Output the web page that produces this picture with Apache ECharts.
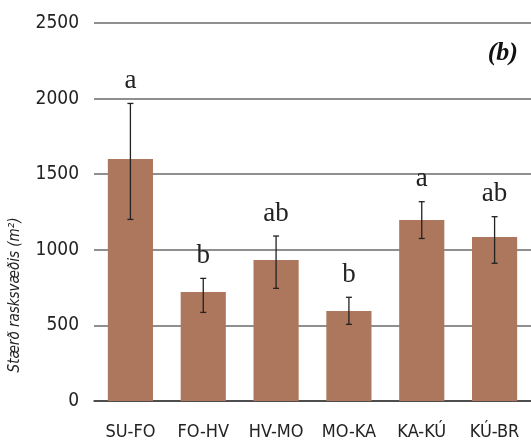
<!DOCTYPE html>
<html>
<head>
<meta charset="utf-8">
<script src="https://cdn.jsdelivr.net/npm/echarts@6/dist/echarts.min.js"></script>
<style>
  html, body { margin: 0; padding: 0; background: #fff; }
  #chart { width: 531px; height: 441px; }
</style>
</head>
<body>
<div id="chart"></div>
<script>
// Disturbed area per section, with error range and significance letters
const categories = ['SU-FO', 'FO-HV', 'HV-MO', 'MO-KA', 'KA-KÚ', 'KÚ-BR'];
const means = [1600, 721, 932, 595, 1197, 1085];
const errLow = [1201, 586, 745, 507, 1075, 911];
const errHigh = [1968, 811, 1091, 686, 1318, 1219];
const groupLetters = ['a', 'b', 'ab', 'b', 'a', 'ab'];
const yTicks = [0, 500, 1000, 1500, 2000, 2500];

const sansNarrow = '"Liberation Sans Narrow", "DejaVu Sans Condensed", sans-serif';
const serif = '"Liberation Serif", "DejaVu Serif", serif';

const chart = echarts.init(document.getElementById('chart'), null, { renderer: 'canvas' });

const errData = categories.map((c, i) => [i, errLow[i], errHigh[i]]);

chart.setOption({
  animation: false,
  grid: { left: 94, top: 23, width: 443, height: 378, containLabel: false },
  xAxis: {
    type: 'category',
    data: categories,
    axisLine: { show: true, lineStyle: { color: '#3a3a3a', width: 1.5 } },
    axisTick: { show: false },
    axisLabel: {
      interval: 0,
      color: '#222', fontFamily: sansNarrow, fontSize: 18, margin: 22
    }
  },
  yAxis: {
    type: 'value',
    min: 0, max: yTicks[yTicks.length - 1], interval: 500,
    axisLine: { show: false },
    axisTick: { show: false },
    axisLabel: {
      color: '#222', fontFamily: sansNarrow, fontSize: 19, margin: 15,
      formatter: function (v) { return String(v); }
    },
    splitLine: { show: true, lineStyle: { color: '#6a6a6a', width: 1.5 } }
  },
  graphic: [
    {
      type: 'text',
      x: 15, y: 295,
      rotation: Math.PI / 2,
      style: {
        text: 'Stærð rasksvæðis (m²)',
        fontFamily: sansNarrow, fontStyle: 'italic', fontSize: 15,
        fill: '#222', align: 'center', verticalAlign: 'middle'
      }
    },
    {
      type: 'text',
      x: 518, y: 53,
      style: {
        text: '(b)',
        fontFamily: serif, fontStyle: 'italic', fontWeight: 'bold', fontSize: 26,
        fill: '#111', align: 'right', verticalAlign: 'middle'
      }
    }
  ],
  series: [
    {
      type: 'bar',
      data: means,
      barWidth: '62%',
      itemStyle: { color: '#ad775d' },
      z: 2
    },
    {
      type: 'custom',
      data: errData,
      z: 3,
      renderItem: function (params, api) {
        const x = api.coord([api.value(0), 0])[0];
        const yLo = api.coord([api.value(0), api.value(1)])[1];
        const yHi = api.coord([api.value(0), api.value(2)])[1];
        const cap = 3;
        const st = { stroke: '#222', lineWidth: 1.3 };
        return {
          type: 'group',
          children: [
            { type: 'line', shape: { x1: x, y1: yHi, x2: x, y2: yLo }, style: st },
            { type: 'line', shape: { x1: x - cap, y1: yHi, x2: x + cap, y2: yHi }, style: st },
            { type: 'line', shape: { x1: x - cap, y1: yLo, x2: x + cap, y2: yLo }, style: st },
            {
              type: 'text',
              x: x, y: yHi - 9,
              style: {
                text: groupLetters[params.dataIndex],
                fontFamily: serif, fontSize: 27, fill: '#222',
                align: 'center', verticalAlign: 'bottom'
              }
            }
          ]
        };
      }
    }
  ]
});
</script>
</body>
</html>
